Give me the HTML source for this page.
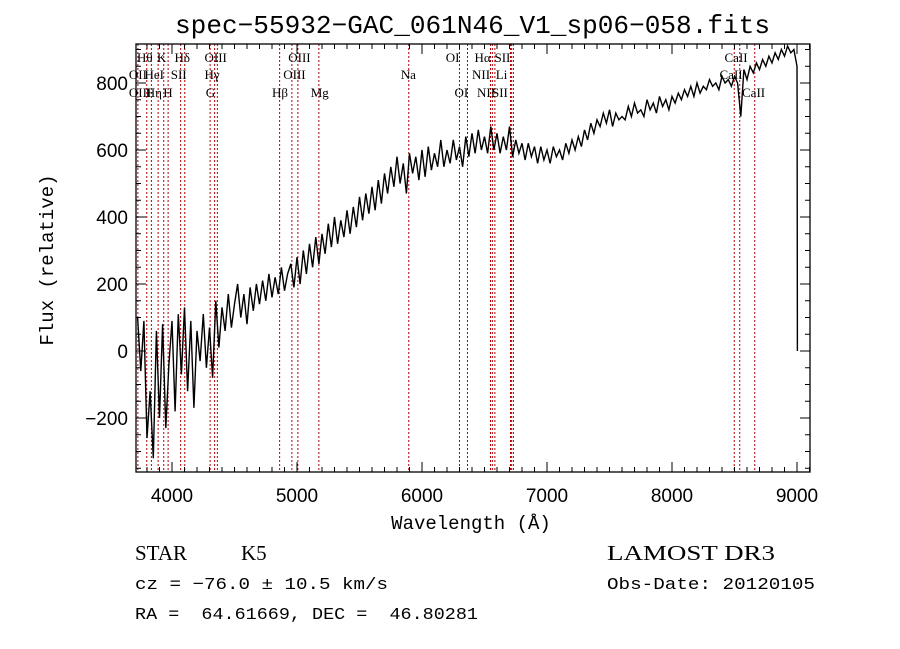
<!DOCTYPE html>
<html><head><meta charset="utf-8"><style>
html,body{margin:0;padding:0;background:#fff;}
svg{display:block;}
</style></head><body>
<svg id="chart" width="900" height="649" xmlns="http://www.w3.org/2000/svg">
<rect width="900" height="649" fill="#fff"/>
<text x="175" y="33" textLength="595" lengthAdjust="spacingAndGlyphs" font-family="Liberation Mono, monospace" font-size="26">spec−55932−GAC_061N46_V1_sp06−058.fits</text>
<g id="lines"></g><g id="spec"></g><g id="axes"></g><g id="labels"></g>
<text x="471" y="529" font-family="Liberation Mono, monospace" font-size="19" text-anchor="middle">Wavelength (Å)</text>
<text transform="translate(53,260) rotate(-90)" font-family="Liberation Mono, monospace" font-size="19" text-anchor="middle">Flux (relative)</text>
<text x="135" y="560" font-family="Liberation Serif, serif" font-size="21">STAR</text>
<text x="241" y="560" font-family="Liberation Serif, serif" font-size="21">K5</text>
<text x="607" y="560" textLength="168" lengthAdjust="spacingAndGlyphs" font-family="Liberation Serif, serif" font-size="21">LAMOST DR3</text>
<text x="135" y="589" textLength="253" lengthAdjust="spacingAndGlyphs" font-family="Liberation Mono, monospace" font-size="17">cz = −76.0 ± 10.5 km/s</text>
<text x="607" y="589" textLength="208" lengthAdjust="spacingAndGlyphs" font-family="Liberation Mono, monospace" font-size="17">Obs-Date: 20120105</text>
<text x="135" y="619" textLength="343" lengthAdjust="spacingAndGlyphs" font-family="Liberation Mono, monospace" font-size="17" xml:space="preserve">RA =  64.61669, DEC =  46.80281</text>
</svg>
<script>
const xTicks=[4000,5000,6000,7000,8000,9000];
const yTicks=[-200,0,200,400,600,800];
const wStart=3725, wStep=25;
const flux=[100,-60,90,-260,-120,-320,60,-200,80,-230,-40,90,-180,110,-70,130,-120,90,-170,60,-30,110,-50,70,-80,150,10,130,
60,170,70,140,200,100,170,80,190,120,200,140,210,150,230,160,220,170,250,180,230,260,190,280,
200,300,230,320,250,340,260,350,290,380,310,400,320,390,340,420,350,430,370,460,390,470,410,490,
420,510,440,530,470,550,490,580,500,560,470,590,530,580,510,600,
520,610,540,590,550,630,550,600,560,630,570,610,550,640,580,650,590,660,600,640,590,670,600,650,
590,640,600,670,580,630,590,620,570,620,580,610,560,610,570,600,
560,610,580,600,570,620,590,630,600,640,610,660,630,680,650,690,670,710,680,720,670,710,690,700,
690,730,700,740,710,720,700,750,720,740,710,760,730,750,720,760,
740,770,750,780,760,790,760,800,770,790,780,810,790,800,780,820,800,810,790,820,
800,700,840,810,850,830,860,840,870,850,880,860,890,870,900,880,910,890,900,850];
const tailW=[9001,9002,9003];
const tailF=[750,250,0];
const lineW=[3727,3798,3835,3889,3934,3969,4069,4102,4305,4341,4363,4861,4959,5007,5175,5894,6300,6364,6548,6563,6583,6708,6717,6731,8498,8542,8662];
const labText=["Hθ","K","Hδ","OIII","OIII","OI","Hα","SII","CaII","OII","HeI","SII","Hγ","OIII","Na","NII","Li","CaII","OIII","Hη","H","G","Hβ","Mg","OI","NII","SII","CaII"];
const labW=[3720,3880,4020,4260,4930,6190,6420,6580,8420,3655,3780,3990,4260,4890,5830,6400,6590,8380,3655,3790,3930,4270,4800,5110,6260,6440,6560,8560];
const labRow=[0,0,0,0,0,0,0,0,0,1,1,1,1,1,1,1,1,1,2,2,2,2,2,2,2,2,2,2];
const L=136,R=810,T=44,B=472;
const xs=w=>172+(w-4000)*0.125;
const ys=v=>351-v*0.335;
const NS='http://www.w3.org/2000/svg';
function mk(t,a,p){const e=document.createElementNS(NS,t);for(const k in a)e.setAttribute(k,a[k]);p.appendChild(e);return e;}
const gl=document.getElementById('lines');
lineW.forEach(w=>{const l=mk('line',{x1:xs(w),x2:xs(w),y1:T,y2:B,stroke:'#b00000','stroke-width':1,'stroke-dasharray':'2,2'},gl);

});
const gs=document.getElementById('spec');
let pts=flux.map((f,i)=>xs(wStart+i*wStep).toFixed(1)+','+ys(f).toFixed(1));
tailW.forEach((w,i)=>pts.push(xs(w).toFixed(1)+','+ys(tailF[i]).toFixed(1)));
const cp=mk('clipPath',{id:'cp'},gs);mk('rect',{x:L,y:T,width:R-L,height:B-T},cp);
const pl=mk('polyline',{points:pts.join(' '),fill:'none',stroke:'#000','stroke-width':1.4,'stroke-linejoin':'miter','clip-path':'url(#cp)'},gs);


const ga=document.getElementById('axes');
const fr=mk('rect',{x:L,y:T,width:R-L,height:B-T,fill:'none',stroke:'#000','stroke-width':1.3},ga);


for(let w=3800;w<=9100;w+=100){const x=xs(w);if(x<L||x>R)continue;const len=(w%1000===0)?10:5;
mk('line',{x1:x,x2:x,y1:B,y2:B-len,stroke:'#000'},ga);mk('line',{x1:x,x2:x,y1:T,y2:T+len,stroke:'#000'},ga);}
for(let v=-350;v<=900;v+=50){const y=ys(v);if(y<T||y>B)continue;const len=(v%200===0)?10:5;
mk('line',{x1:L,x2:L+len,y1:y,y2:y,stroke:'#000'},ga);mk('line',{x1:R,x2:R-len,y1:y,y2:y,stroke:'#000'},ga);}
xTicks.forEach(w=>{const t=mk('text',{x:xs(w),y:502,'font-family':'Liberation Sans, sans-serif','font-size':19,'text-anchor':'middle'},ga);t.textContent=w;

});
yTicks.forEach(v=>{const t=mk('text',{x:128,y:ys(v)+7,'font-family':'Liberation Sans, sans-serif','font-size':19,'text-anchor':'end'},ga);t.textContent=(v<0?'−'+(-v):v);

});
const gb=document.getElementById('labels');
const rowY=[62,79,97];
labText.forEach((s,i)=>{const t=mk('text',{x:xs(labW[i]),y:rowY[labRow[i]],'font-family':'Liberation Serif, serif','font-size':13},gb);t.textContent=s;

});
</script>
</body></html>
